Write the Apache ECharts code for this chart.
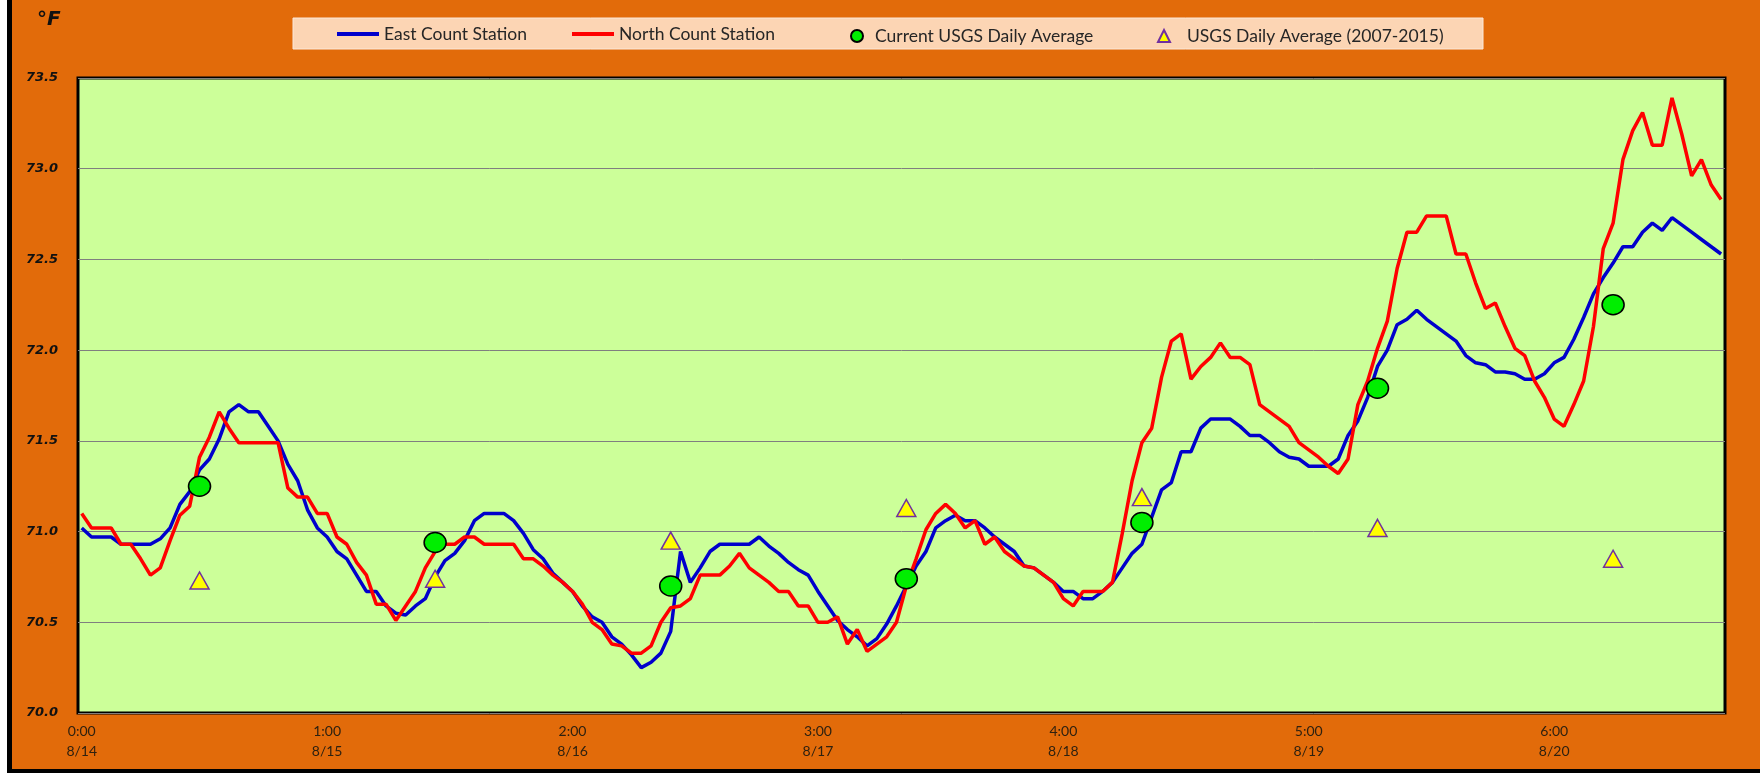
<!DOCTYPE html>
<html>
<head>
<meta charset="utf-8">
<script src="https://cdn.jsdelivr.net/npm/echarts@6/dist/echarts.min.js"></script>
<style>
  html, body { margin: 0; padding: 0; background: #fff; }
  #container { width: 1760px; height: 773px; }
</style>
</head>
<body>
<div id="container"></div>
<script>
// hourly readings, one value per step on the x axis
var eastStation = [
    71.02, 70.97, 70.97, 70.97, 70.93, 70.93, 70.93, 70.93, 70.96, 71.02,
    71.15, 71.22, 71.34, 71.40, 71.51, 71.66, 71.70, 71.66, 71.66, 71.58,
    71.50, 71.37, 71.28, 71.12, 71.02, 70.97, 70.89, 70.85, 70.76, 70.67,
    70.67, 70.59, 70.55, 70.54, 70.59, 70.63, 70.75, 70.84, 70.88, 70.95,
    71.06, 71.10, 71.10, 71.10, 71.06, 70.99, 70.90, 70.85, 70.77, 70.72,
    70.67, 70.59, 70.53, 70.50, 70.42, 70.38, 70.32, 70.25, 70.28, 70.33,
    70.45, 70.89, 70.72, 70.80, 70.89, 70.93, 70.93, 70.93, 70.93, 70.97,
    70.92, 70.88, 70.83, 70.79, 70.76, 70.67, 70.59, 70.51, 70.46, 70.42,
    70.37, 70.41, 70.49, 70.59, 70.70, 70.81, 70.89, 71.02, 71.06, 71.09,
    71.06, 71.06, 71.02, 70.97, 70.93, 70.89, 70.81, 70.80, 70.76, 70.72,
    70.67, 70.67, 70.63, 70.63, 70.67, 70.72, 70.80, 70.88, 70.93, 71.08,
    71.23, 71.27, 71.44, 71.44, 71.57, 71.62, 71.62, 71.62, 71.58, 71.53,
    71.53, 71.49, 71.44, 71.41, 71.40, 71.36, 71.36, 71.36, 71.40, 71.53,
    71.61, 71.74, 71.91, 72.00, 72.14, 72.17, 72.22, 72.17, 72.13, 72.09,
    72.05, 71.97, 71.93, 71.92, 71.88, 71.88, 71.87, 71.84, 71.84, 71.87,
    71.93, 71.96, 72.06, 72.18, 72.31, 72.40, 72.48, 72.57, 72.57, 72.65,
    72.70, 72.66, 72.73, 72.69, 72.65, 72.61, 72.57, 72.53
];
var northStation = [
    71.10, 71.02, 71.02, 71.02, 70.93, 70.93, 70.85, 70.76, 70.80, 70.95,
    71.09, 71.14, 71.41, 71.52, 71.66, 71.57, 71.49, 71.49, 71.49, 71.49,
    71.49, 71.24, 71.19, 71.19, 71.10, 71.10, 70.97, 70.93, 70.83, 70.76,
    70.60, 70.60, 70.51, 70.59, 70.67, 70.80, 70.89, 70.93, 70.93, 70.97,
    70.97, 70.93, 70.93, 70.93, 70.93, 70.85, 70.85, 70.81, 70.76, 70.72,
    70.67, 70.60, 70.50, 70.46, 70.38, 70.37, 70.33, 70.33, 70.37, 70.50,
    70.58, 70.59, 70.63, 70.76, 70.76, 70.76, 70.81, 70.88, 70.80, 70.76,
    70.72, 70.67, 70.67, 70.59, 70.59, 70.50, 70.50, 70.53, 70.38, 70.46,
    70.34, 70.38, 70.42, 70.50, 70.70, 70.85, 71.01, 71.10, 71.15, 71.10,
    71.02, 71.06, 70.93, 70.97, 70.89, 70.85, 70.81, 70.80, 70.76, 70.72,
    70.63, 70.59, 70.67, 70.67, 70.67, 70.72, 70.99, 71.28, 71.49, 71.57,
    71.85, 72.05, 72.09, 71.84, 71.91, 71.96, 72.04, 71.96, 71.96, 71.92,
    71.70, 71.66, 71.62, 71.58, 71.49, 71.45, 71.41, 71.36, 71.32, 71.40,
    71.70, 71.83, 72.01, 72.16, 72.45, 72.65, 72.65, 72.74, 72.74, 72.74,
    72.53, 72.53, 72.37, 72.23, 72.26, 72.13, 72.01, 71.97, 71.83, 71.74,
    71.62, 71.58, 71.70, 71.83, 72.13, 72.56, 72.70, 73.05, 73.21, 73.31,
    73.13, 73.13, 73.39, 73.19, 72.96, 73.05, 72.91, 72.83
];
// USGS daily values, placed at these steps
var usgsSteps = [12, 36, 60, 84, 108, 132, 156];
var usgsCurrent = [71.25, 70.94, 70.70, 70.74, 71.05, 71.79, 72.25];
var usgsHistoric = [70.73, 70.74, 70.95, 71.13, 71.19, 71.02, 70.85];

var tickSteps = [0, 25, 50, 75, 100, 125, 150];
var hourLabels = ['0:00', '1:00', '2:00', '3:00', '4:00', '5:00', '6:00'];
var dateLabels = ['8/14', '8/15', '8/16', '8/17', '8/18', '8/19', '8/20'];

var names = ['East Count Station', 'North Count Station',
    'Current USGS Daily Average', 'USGS Daily Average (2007-2015)'];

function pairs(vals) {
    return vals.map(function (v, i) { return [i, v]; });
}
function pointPairs(vals) {
    return vals.map(function (v, i) { return [usgsSteps[i], v]; });
}

var myChart = echarts.init(document.getElementById('container'));
var legendFont = { fontFamily: 'Lato', fontSize: 17.5, color: '#262626' };

var option = {
    animation: false,
    backgroundColor: '#E26B0A',
    title: {
        text: '°F',
        left: 37,
        top: 10,
        padding: 0,
        textStyle: { fontFamily: 'DejaVu Sans', fontStyle: 'italic', fontWeight: 'bold', fontSize: 20, color: '#111' }
    },
    graphic: [
        { type: 'rect', shape: { x: 0, y: 0, width: 7, height: 773 }, style: { fill: '#fff' }, silent: true },
        { type: 'rect', shape: { x: 7, y: 0, width: 5, height: 773 }, style: { fill: '#000' }, silent: true },
        { type: 'rect', shape: { x: 7, y: 769, width: 1753, height: 4 }, style: { fill: '#000' }, silent: true },
        { type: 'rect', shape: { x: 293, y: 18, width: 1190, height: 31 }, style: { fill: '#FCD5B4', stroke: '#fbe9da', lineWidth: 1 }, silent: true, z: -1 }
    ],
    legend: [
        { data: [{ name: names[0], icon: 'rect' }], left: 337, top: 25, padding: 0, itemWidth: 42, itemHeight: 4, textStyle: legendFont },
        { data: [{ name: names[1], icon: 'rect' }], left: 572, top: 25, padding: 0, itemWidth: 42, itemHeight: 4, textStyle: legendFont },
        { data: [names[2]], left: 850, top: 27, padding: 0, itemWidth: 12, itemHeight: 13, textStyle: Object.assign({ padding: [0, 0, 0, 7] }, legendFont) },
        { data: [names[3]], left: 1157, top: 27, padding: 0, itemWidth: 12, itemHeight: 12, textStyle: Object.assign({ padding: [0, 0, 0, 12] }, legendFont) }
    ],
    grid: {
        left: 78,
        right: 35,
        top: 78,
        bottom: 60,
        show: true,
        backgroundColor: '#CCFF99',
        borderColor: '#000',
        borderWidth: 3
    },
    xAxis: {
        type: 'value',
        min: -0.38,
        max: 167.4,
        splitLine: { show: false },
        axisLine: { show: false },
        axisTick: { show: false },
        axisLabel: {
            customValues: tickSteps,
            margin: 8,
            lineHeight: 20,
            fontFamily: 'Lato',
            fontSize: 14,
            color: '#2e2110',
            formatter: function (v) {
                var k = tickSteps.indexOf(Math.round(v));
                return k < 0 ? '' : hourLabels[k] + '\n' + dateLabels[k];
            }
        }
    },
    yAxis: {
        type: 'value',
        min: 70,
        max: 73.5,
        interval: 0.5,
        axisLine: { show: false },
        axisTick: { show: false },
        splitLine: { lineStyle: { color: '#7f7f7f', width: 1 } },
        axisLabel: {
            margin: 20,
            fontFamily: 'DejaVu Sans',
            fontStyle: 'italic',
            fontWeight: 'bold',
            fontSize: 13,
            color: '#111',
            formatter: function (v) { return v.toFixed(1); }
        }
    },
    series: [
        {
            name: names[0],
            type: 'line',
            symbol: 'none',
            color: '#0000CC',
            lineStyle: { color: '#0000CC', width: 3.5 },
            data: pairs(eastStation)
        },
        {
            name: names[1],
            type: 'line',
            symbol: 'none',
            color: '#FF0000',
            lineStyle: { color: '#FF0000', width: 3.5 },
            data: pairs(northStation)
        },
        {
            name: names[2],
            type: 'scatter',
            symbol: 'circle',
            symbolSize: [22, 20],
            itemStyle: { color: '#00EE00', borderColor: '#000', borderWidth: 1.5, opacity: 1 },
            z: 5,
            data: pointPairs(usgsCurrent)
        },
        {
            name: names[3],
            type: 'scatter',
            symbol: 'triangle',
            symbolSize: [19, 17],
            itemStyle: { color: '#FFFF00', borderColor: '#7030A0', borderWidth: 1.5, opacity: 1 },
            z: 5,
            data: pointPairs(usgsHistoric)
        }
    ]
};

myChart.setOption(option);
</script>
</body>
</html>
